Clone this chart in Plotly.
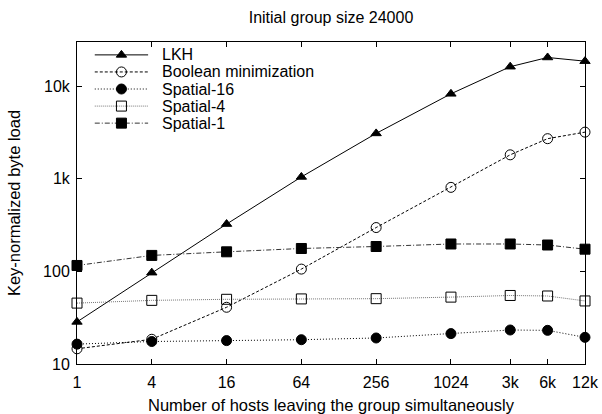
import plotly.graph_objects as go

x_vals = [1, 4, 16, 64, 256, 1024, 3072, 6144, 12288]
x_labels = ["1", "4", "16", "64", "256", "1024", "3k", "6k", "12k"]

lkh = [28.5, 97, 325, 1050, 3100, 8300, 16300, 20500, 18700]
boolean_min = [14.6, 18.5, 41, 106, 298, 810, 1820, 2720, 3200]
spatial16 = [16.4, 17.5, 17.9, 18.3, 19.1, 21.3, 23.3, 23.1, 19.4]
spatial4 = [45.5, 48.7, 50.0, 50.5, 50.8, 52.8, 55.0, 54.3, 48.0]
spatial1 = [116, 149, 163, 177, 186, 198, 198, 193, 174]

y_tickvals = [10, 100, 1000, 10000]
y_ticklabels = ["10", "100", "1k", "10k"]

series_names = ["LKH", "Boolean minimization", "Spatial-16", "Spatial-4", "Spatial-1"]
series_values = [lkh, boolean_min, spatial16, spatial4, spatial1]

styles = [
    dict(dash="solid", sym="triangle-up", size=9, lc="black"),
    dict(dash="3px,2px", sym="circle-open", size=10, lc="black"),
    dict(dash="1px,2px", sym="circle", size=10, lc="black"),
    dict(dash="1px,1px", sym="square-open", size=10, lc="#777777"),
    dict(dash="5px,2px,1px,2px", sym="square", size=10, lc="#333333"),
]

font = "Liberation Sans, Arial, sans-serif"

fig = go.Figure()
for name, vals, st in zip(series_names, series_values, styles):
    fig.add_trace(go.Scatter(
        x=x_vals, y=vals, name=name, mode="lines+markers", showlegend=False,
        line=dict(color=st["lc"], width=1, dash=st["dash"]),
        marker=dict(symbol=st["sym"], size=st["size"], color="black",
                    line=dict(color="black", width=1)),
        cliponaxis=False,
    ))

# hand-drawn legend (gnuplot style key) on an overlay axis spanning the plot area
legend_rows = [0.960, 0.907, 0.854, 0.801, 0.748]
x0, x1, xm, xt = 0.035, 0.140, 0.0875, 0.163
for name, st, ry in zip(series_names, styles, legend_rows):
    fig.add_trace(go.Scatter(
        x=[x0, x1], y=[ry, ry], mode="lines", showlegend=False, xaxis="x2", yaxis="y2",
        line=dict(color=st["lc"], width=1, dash=st["dash"]), hoverinfo="skip",
    ))
    fig.add_trace(go.Scatter(
        x=[xm], y=[ry], mode="markers", showlegend=False, xaxis="x2", yaxis="y2",
        marker=dict(symbol=st["sym"], size=st["size"], color="black",
                    line=dict(color="black", width=1)), hoverinfo="skip",
    ))
    fig.add_annotation(x=xt, y=ry, xref="paper", yref="paper", text=name,
                       showarrow=False, xanchor="left", yanchor="middle",
                       font=dict(family=font, size=16, color="black"))

axis_common = dict(
    showgrid=False, zeroline=False, showline=True, linecolor="black", linewidth=1,
    mirror="allticks", ticks="inside", ticklen=5, tickcolor="black", automargin=False,
    tickfont=dict(family=font, size=16, color="black"),
)
fig.update_layout(
    xaxis=dict(type="log", range=[0, 4.0895], tickvals=x_vals, ticktext=x_labels,
               ticklabelstandoff=4,
               title=dict(text="Number of hosts leaving the group simultaneously",
                          font=dict(family=font, size=16.5, color="black"), standoff=14),
               **axis_common),
    yaxis=dict(type="log", range=[1, 4.479], tickvals=y_tickvals, ticktext=y_ticklabels,
               ticklabelstandoff=3,
               title=dict(text="Key-normalized byte load",
                          font=dict(family=font, size=16.5, color="black"), standoff=18),
               **axis_common),
    xaxis2=dict(range=[0, 1], visible=False, overlaying="x", anchor="y2", fixedrange=True),
    yaxis2=dict(range=[0, 1], visible=False, overlaying="y", anchor="x2", fixedrange=True),
    width=602, height=414,
    margin=dict(l=77, r=17, t=42, b=50),
    paper_bgcolor="white", plot_bgcolor="white",
    title=dict(text="Initial group size 24000", x=(77 + 585) / 2 / 602, xanchor="center",
               y=1 - 17 / 414, yanchor="middle",
               font=dict(family=font, size=16, color="black")),
    showlegend=False,
)

fig.write_html("out.html")
